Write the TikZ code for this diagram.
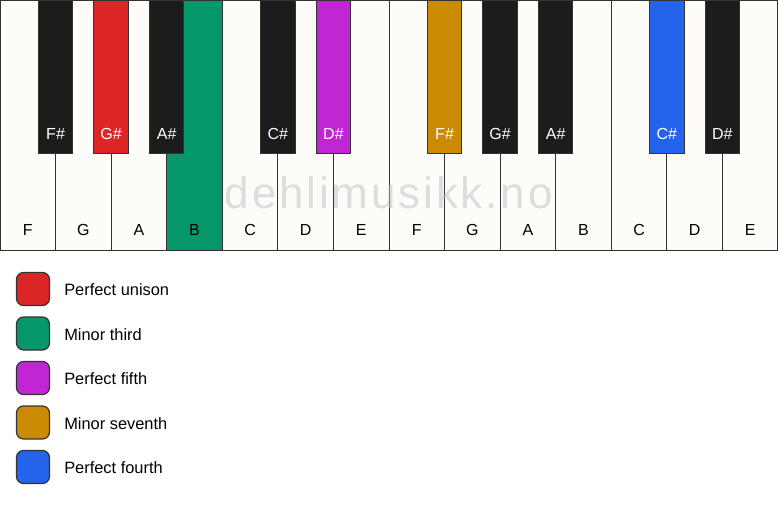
\documentclass[tikz,border=0pt]{standalone}
\usepackage{fontspec}
\setmainfont{Liberation Sans}
\usepackage{tikz}
\usetikzlibrary{positioning}

\definecolor{keyline}{HTML}{333333}
\definecolor{ivory}{HTML}{FDFCF9}
\definecolor{ebony}{HTML}{1C1C1C}
\definecolor{unison}{HTML}{DC2626}
\definecolor{third}{HTML}{059669}
\definecolor{fifth}{HTML}{C026D3}
\definecolor{seventh}{HTML}{CA8A04}
\definecolor{fourth}{HTML}{2563EB}

\tikzset{
  whitekey/.style={draw=keyline, line width=1pt, minimum width=55.57pt, minimum height=250pt, inner sep=0pt},
  blackkey/.style={draw=keyline, line width=1pt, minimum width=34.5pt, minimum height=153.3pt, inner sep=0pt},
  keytext/.style={anchor=base, inner sep=0pt, font=\fontsize{16}{19}\selectfont},
  swatch/.style={draw=keyline, line width=1.2pt, rounded corners=7pt, minimum size=33pt, inner sep=0pt},
  legendtext/.style={inner sep=0pt, font=\fontsize{16.4}{19}\selectfont}
}

\begin{document}
\begin{tikzpicture}[x=1pt, y=-1pt]
      \useasboundingbox (0,0) rectangle (778,506);
      % white keys
      \foreach \n/\c [count=\i from 0] in {F/ivory,G/ivory,A/ivory,B/third,C/ivory,D/ivory,E/ivory,F/ivory,G/ivory,A/ivory,B/ivory,C/ivory,D/ivory,E/ivory}{
        \node at (27.79+55.57*\i,125)[whitekey,fill=\c] (w\i){};
        \node at (27.79+55.57*\i,235.7)[keytext] (wl\i){\n};
      }
      \node at (388.8,208)[anchor=base, inner sep=0pt, text=black!25, text opacity=0.5,
        font=\fontsize{44}{44}\selectfont\addfontfeature{LetterSpace=6.4}] (mark){dehlimusikk.no};
      % black keys
      \foreach \k/\n/\c in {1/F/ebony,2/G/unison,3/A/ebony,5/C/ebony,6/D/fifth,8/F/seventh,9/G/ebony,10/A/ebony,12/C/fourth,13/D/ebony}{
        \node at (55.57*\k,76.65)[blackkey,fill=\c] (b\k){};
        \node at (55.57*\k,139.3)[keytext,text=white] (bl\k){\n\#};
      }
      % legend
      \foreach \c/\t [count=\i] in {unison/Perfect unison,third/Minor third,fifth/Perfect fifth,seventh/Minor seventh,fourth/Perfect fourth}{
        \node at (33,289+44.5*\i-44.5)[swatch,fill=\c] (s\i){};
        \node[right=14pt of s\i,legendtext,yshift=-1pt] (t\i){\t};
      }
\end{tikzpicture}
\end{document}
